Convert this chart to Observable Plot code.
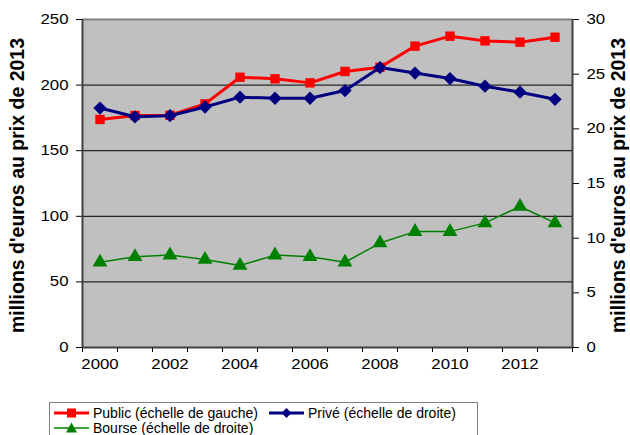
<!DOCTYPE html>
<html><head><meta charset="utf-8">
<script src="https://cdn.jsdelivr.net/npm/d3@7"></script>
<script src="https://cdn.jsdelivr.net/npm/@observablehq/plot@0.6"></script>
<style>
body{margin:0;background:#fff;font-family:"Liberation Sans",Arial,sans-serif;overflow:hidden;width:630px;height:435px;position:relative}
#chart{position:absolute;left:0;top:0}
#legend{position:absolute;left:49px;top:402px;width:429px;height:60px;border:1px solid #808080;box-sizing:border-box;background:#fff;font-size:14px;line-height:15px}
.item{position:absolute;display:flex;align-items:center;white-space:nowrap}
.item svg{margin-right:4px}
</style></head>
<body>
<div id="chart"></div>
<div id="legend"></div>
<script>
const years = [2000,2001,2002,2003,2004,2005,2006,2007,2008,2009,2010,2011,2012,2013];
const publicVals = [173.8,176.8,177,185.7,206,204.8,201.7,210.4,213.6,229.7,237.3,233.7,232.7,236.5];
const priveVals = [21.9,21.1,21.2,22.0,22.9,22.8,22.8,23.5,25.6,25.1,24.6,23.9,23.35,22.7];
const bourseVals = [7.8,8.3,8.45,8.05,7.5,8.45,8.3,7.8,9.55,10.6,10.6,11.4,12.9,11.4];
const leftTicks = [0,50,100,150,200,250];
const rightTicks = [0,5,10,15,20,25,30];
const xLabels = [2000,2002,2004,2006,2008,2010,2012];
const seriesNames = ["Public (échelle de gauche)","Privé (échelle de droite)","Bourse (échelle de droite)"];
const axisTitle = "millions d'euros au prix de 2013";

const k = 250/30;
const rows = years.map((y,i)=>({year:y, pub:publicVals[i], prive:priveVals[i]*k, bourse:bourseVals[i]*k}));
const bounds = d3.range(years[0]-0.5, years[years.length-1]+1, 1);

const chart = Plot.plot({
  width:630, height:385,
  marginLeft:82, marginRight:58, marginTop:19, marginBottom:38,
  style:{fontFamily:"Liberation Sans, Arial, sans-serif", fontSize:"14px", color:"#000", background:"transparent"},
  x:{domain:[years[0]-0.5, years[years.length-1]+0.5]},
  y:{domain:[0,250]},
  marks:[
    Plot.frame({fill:"#c0c0c0"}),
    Plot.ruleY([50,100,150,200],{stroke:"#000",strokeWidth:1}),
    Plot.ruleY([250],{stroke:"#808080",strokeWidth:2}),
    Plot.axisY(leftTicks,{anchor:"left",tickSize:6,tickPadding:8,label:null,tickFormat:d=>d}),
    Plot.axisY(rightTicks.map(v=>v*k),{anchor:"right",tickSize:6,tickPadding:8,label:null,tickFormat:d=>Math.round(d/k)}),
    Plot.axisX(bounds,{tickSize:5,tickFormat:()=>"",label:null}),
    Plot.axisX(xLabels,{tickSize:0,tickPadding:12,tickFormat:d=>String(d),label:null}),
    Plot.ruleX([bounds[0]],{stroke:"#404040",strokeWidth:2}),
    Plot.ruleX([bounds[bounds.length-1]],{stroke:"#404040",strokeWidth:2}),
    Plot.ruleY([0],{stroke:"#404040",strokeWidth:2}),
    Plot.line(rows,{x:"year",y:"bourse",stroke:"#008000",strokeWidth:1.5}),
    Plot.dot(rows,{x:"year",y:"bourse",symbol:"triangle",fill:"#008000",r:5.5}),
    Plot.line(rows,{x:"year",y:"pub",stroke:"#ff0000",strokeWidth:3}),
    Plot.dot(rows,{x:"year",y:"pub",symbol:"square",fill:"#ff0000",r:5.3}),
    Plot.line(rows,{x:"year",y:"prive",stroke:"#000080",strokeWidth:3}),
    Plot.dot(rows,{x:"year",y:"prive",symbol:"diamond2",fill:"#000080",stroke:null,r:6}),
    Plot.text([axisTitle],{frameAnchor:"left",textAnchor:"middle",dx:-65,dy:2,rotate:-90,fontWeight:"bold",fontSize:19.5}),
    Plot.text([axisTitle],{frameAnchor:"right",textAnchor:"middle",dx:46,dy:2,rotate:-90,fontWeight:"bold",fontSize:19.5})
  ]
});
// tick labels in the reference are horizontally widened
chart.querySelectorAll('g[aria-label$="tick label"] text').forEach(t=>{
  const tr = t.getAttribute("transform") || "";
  t.setAttribute("transform", tr + " scale(1.2,1)");
});
document.getElementById("chart").append(chart);

// legend
const legend = document.getElementById("legend");
const items = [
  {name:seriesNames[0], color:"#ff0000", sym:"square", w:3, left:4, top:2},
  {name:seriesNames[1], color:"#000080", sym:"diamond", w:3, left:219, top:2},
  {name:seriesNames[2], color:"#008000", sym:"triangle", w:1.5, left:4, top:17}
];
for (const it of items) {
  const div = document.createElement("div");
  div.className = "item";
  div.style.left = it.left+"px"; div.style.top = it.top+"px";
  let m = "";
  if (it.sym==="square") m = `<rect x="13" y="3.5" width="9" height="9" fill="${it.color}"/>`;
  if (it.sym==="diamond") m = `<path d="M17.5,3 L22.5,8 L17.5,13 L12.5,8Z" fill="${it.color}"/>`;
  if (it.sym==="triangle") m = `<path d="M17.5,2.5 L23,12.5 L12,12.5Z" fill="${it.color}"/>`;
  div.innerHTML = `<svg width="35" height="16"><line x1="0" x2="35" y1="8" y2="8" stroke="${it.color}" stroke-width="${it.w}"/>${m}</svg><span>${it.name}</span>`;
  legend.append(div);
}
</script>
</body></html>
